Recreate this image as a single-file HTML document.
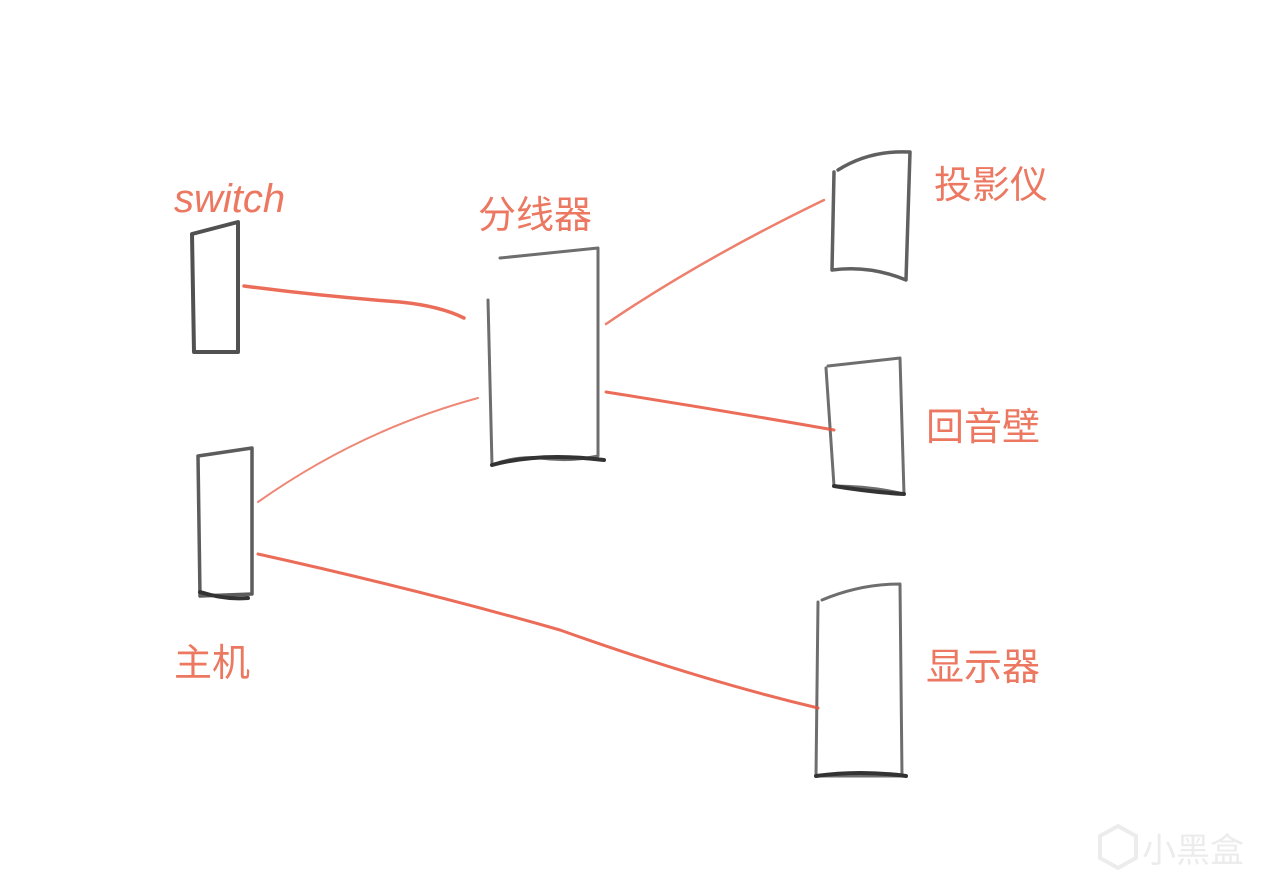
<!DOCTYPE html>
<html><head><meta charset="utf-8"><style>
html,body{margin:0;padding:0;background:#fff;}
svg{display:block}
text{font-family:"Liberation Sans","Noto Sans CJK SC",sans-serif;}
</style></head><body>
<svg width="1280" height="894" viewBox="0 0 1280 894" xmlns="http://www.w3.org/2000/svg">
<rect width="1280" height="894" fill="#fff"/>
<g fill="none" stroke-linecap="round" stroke-linejoin="round">
<!-- switch box -->
<path d="M192 234 L238 222 L238 352 L194 352 Z" stroke="#333" stroke-width="4" opacity="0.85"/>
<!-- host box -->
<path d="M198 456 L252 448 L252 594 L200 596 Z" stroke="#333" stroke-width="3.5" opacity="0.8"/>
<path d="M200 592 Q225 600 248 598" stroke="#333" stroke-width="4"/>
<!-- splitter -->
<path d="M500 258 L598 248 L598 456 Q570 462 540 458 Q515 456 492 465 L488 300" stroke="#555" stroke-width="3" opacity="0.85"/>
<path d="M492 465 Q540 452 604 460" stroke="#333" stroke-width="4"/>
<!-- projector -->
<path d="M838 170 Q870 150 910 152 L906 280 Q870 265 832 270 L834 172" stroke="#444" stroke-width="3.5" opacity="0.85"/>
<!-- soundbar -->
<path d="M828 366 L900 358 L904 494 Q870 486 834 486 L826 368" stroke="#555" stroke-width="3" opacity="0.85"/>
<path d="M834 486 Q870 492 904 494" stroke="#333" stroke-width="4"/>
<!-- monitor -->
<path d="M822 600 Q860 584 900 584 L902 776 L816 776 L818 602" stroke="#555" stroke-width="3" opacity="0.85"/>
<path d="M816 776 Q860 770 906 776" stroke="#333" stroke-width="4"/>
<!-- red connectors -->
<g stroke="#e8543c">
<path d="M244 286 Q320 296 400 302 Q440 306 464 318" stroke-width="3.5" opacity="0.85"/>
<path d="M258 502 Q360 430 478 398" stroke-width="2" opacity="0.7"/>
<path d="M258 554 Q420 590 560 630 Q700 680 818 708" stroke-width="3" opacity="0.85"/>
<path d="M606 324 Q700 260 824 200" stroke-width="2.5" opacity="0.75"/>
<path d="M606 392 Q720 410 834 430" stroke-width="3" opacity="0.85"/>
</g>
</g>
<g fill="#ea6a50" font-size="38" opacity="0.9">
<text x="174" y="212" font-size="40" font-style="italic">switch</text>
<text x="478" y="228">分线器</text>
<text x="934" y="198">投影仪</text>
<text x="926" y="440">回音壁</text>
<text x="174" y="676">主机</text>
<text x="926" y="680">显示器</text>
</g>
<g fill="#eee" stroke="#ececec">
<path d="M1100 836 L1118 826 L1136 836 L1136 858 L1118 868 L1100 858 Z" fill="none" stroke-width="4"/>
</g>
<text x="1142" y="862" font-size="34" fill="#ececec">小黑盒</text>
</svg>
</body></html>
